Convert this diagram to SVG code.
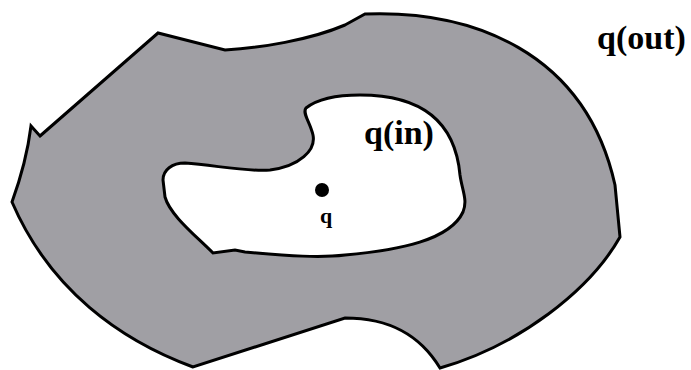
<svg xmlns="http://www.w3.org/2000/svg" width="691" height="370" viewBox="0 0 691 370">
<style>
.region{fill:#a09fa4;stroke:#000;stroke-width:3;stroke-linejoin:miter}
.hole{fill:#fff;stroke:#000;stroke-width:3}
.lbl{font-family:"Liberation Serif","Times New Roman",serif;font-weight:bold;fill:#000}
</style>
<rect width="691" height="370" fill="#fff"/>
<g id="outer">
<path class="region" d="M40,136 L158,33 L225,50 C260,48 310,40 345,25 L365,14 C470,10 585,50 615,185 L620,237 C590,290 520,345 440,368 C420,335 390,318 345,318 L193,367 C120,340 50,290 12,202 C20,180 28,150 31,126 Z"/>
</g>
<g id="inner">
<path class="hole" d="M163,180 C163,170 172,163 185,163 C215,165 245,172 270,170 C300,166 316,150 313,135 C310,122 302,113 306,108 C320,97 340,95 360,95 C420,95 455,120 460,175 C462,190 468,200 463,212 C450,240 400,250 345,255 C320,258 290,256 245,252 L235,250 L213,253 C195,235 170,215 165,197 Z"/>
</g>
<g id="point">
<circle cx="322" cy="190" r="7" fill="#000"/>
<text class="lbl" x="320" y="223" font-size="22">q</text>
</g>
<text class="lbl" x="364" y="144" font-size="34">q(in)</text>
<text class="lbl" x="597" y="49" font-size="34">q(out)</text>
</svg>
